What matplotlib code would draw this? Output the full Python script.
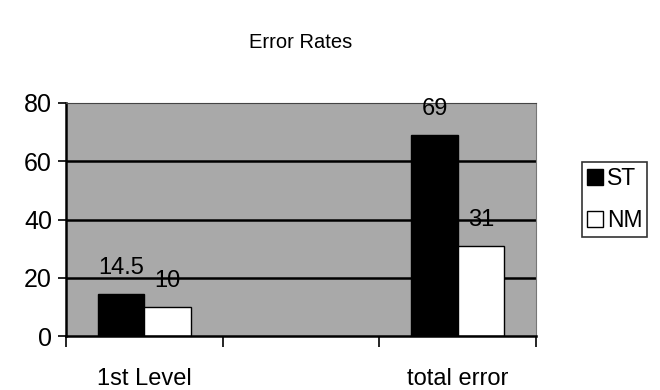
import numpy as np
import matplotlib.pyplot as plt

plt.rcParams['font.family'] = ['Liberation Sans', 'DejaVu Sans']

categories = ['1st Level', '', 'total error']
st_values = [14.5, np.nan, 69]
nm_values = [10, np.nan, 31]
series_names = ['ST', 'NM']

fig = plt.figure(figsize=(6.6, 3.9), dpi=100)
ax = fig.add_axes([0.1, 0.138, 0.712, 0.598])

x = np.arange(len(categories))
w = 0.295  # bar width in category units

ax.set_facecolor('#a9a9a9')
for y in [20, 40, 60]:
    ax.axhline(y, color='black', lw=1.8, zorder=1)

b1 = ax.bar(x - w / 2, st_values, w, color='black', edgecolor='black', lw=1, label=series_names[0], zorder=2)
b2 = ax.bar(x + w / 2, nm_values, w, color='white', edgecolor='black', lw=1, label=series_names[1], zorder=2)

# value labels above the bars
for bars, vals in [(b1, st_values), (b2, nm_values)]:
    for rect, v in zip(bars, vals):
        if np.isnan(v):
            continue
        ax.annotate(f'{v:g}', (rect.get_x() + rect.get_width() / 2, v),
                    xytext=(0, 11), textcoords='offset points',
                    ha='center', va='bottom', fontsize=17, zorder=3)

ax.set_xlim(-0.5, len(categories) - 0.5)
ax.set_ylim(0, 80)
ax.set_yticks([0, 20, 40, 60, 80])
ax.tick_params(axis='y', labelsize=18, length=6, width=1.2, direction='out', pad=4)

# category labels centred, ticks on the boundaries
ax.set_xticks(np.arange(len(categories) + 1) - 0.5)
ax.set_xticklabels([])
ax.set_xticks(x, minor=True)
ax.set_xticklabels(categories, minor=True, fontsize=17)
ax.tick_params(axis='x', which='major', length=8, width=1.2, direction='out')
ax.tick_params(axis='x', which='minor', length=0, pad=23)

for side in ['left', 'bottom']:
    ax.spines[side].set_linewidth(1.8)
    ax.spines[side].set_color('black')
ax.spines['top'].set_color('#444444')
ax.spines['right'].set_color('#777777')

fig.text(0.455, 0.89, 'Error Rates', ha='center', va='center', fontsize=14.5)

leg = ax.legend(loc='upper left', bbox_to_anchor=(1.098, 0.747), fontsize=16.5,
                frameon=True, fancybox=False, edgecolor='black',
                handlelength=0.7, handleheight=0.7, handletextpad=0.2,
                borderpad=0.2, labelspacing=0.85, borderaxespad=0)
leg.get_frame().set_linewidth(1.2)

fig.savefig('out.png', dpi=100)
